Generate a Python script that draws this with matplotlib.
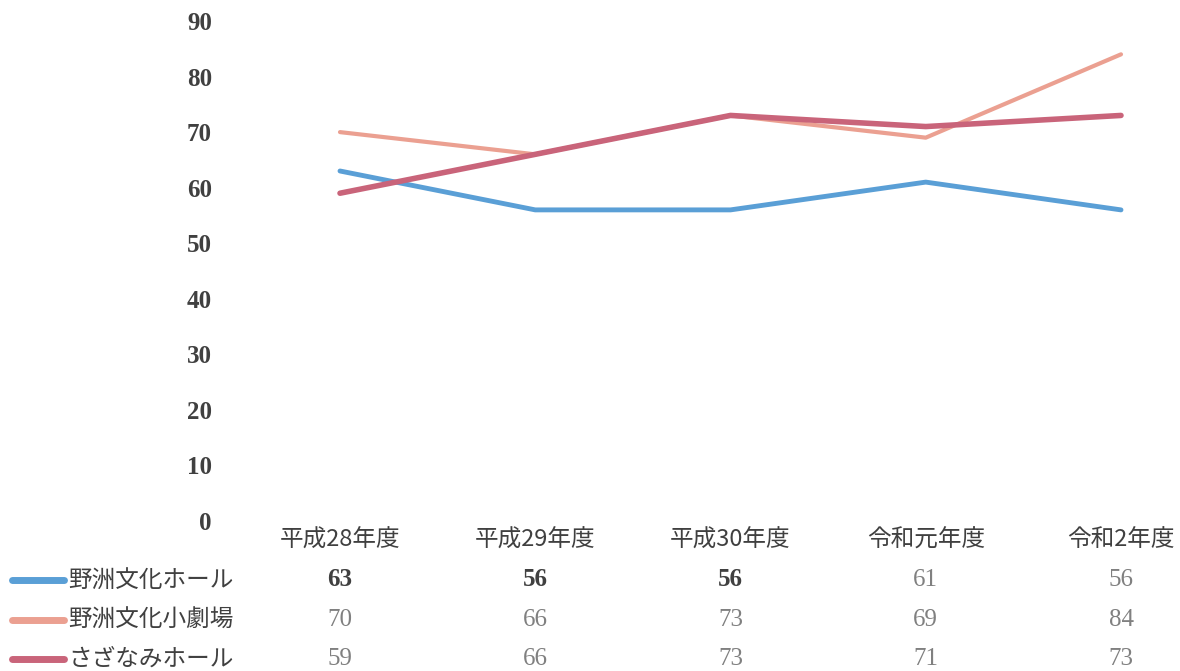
import matplotlib
matplotlib.use("Agg")
import matplotlib.pyplot as plt
import matplotlib.transforms as mtransforms
import numpy as np

plt.rcParams['font.family'] = ['Noto Sans CJK JP', 'DejaVu Sans']

years = ["平成28年度", "平成29年度", "平成30年度", "令和元年度", "令和2年度"]
series_names = ["野洲文化ホール", "野洲文化小劇場", "さざなみホール"]
bunka_hall = [63, 56, 56, 61, 56]
bunka_small = [70, 66, 73, 69, 84]
sazanami = [59, 66, 73, 71, 73]
yticks = [0, 10, 20, 30, 40, 50, 60, 70, 80, 90]

values = [bunka_hall, bunka_small, sazanami]
colors = ["#5a9fd6", "#eba091", "#c9647a"]
widths = [3.5, 3.0, 4.0]

W, H = 1180, 671
fig = plt.figure(figsize=(W / 100, H / 100), dpi=100)

x0, dx = 340, 195.25
left_px = x0 - dx / 2
ax = fig.add_axes([left_px / W, 1 - 521 / H, (W - left_px) / W, 500 / H])
x = np.arange(len(years))
ax.set_xlim(-0.5, (W - x0) / dx)
ax.set_ylim(0, 90)

for vals, c, lw in zip(values, colors, widths):
    ax.plot(x, vals, color=c, lw=lw, solid_capstyle='round', solid_joinstyle='round')

ax.set_xticks([])
ax.set_yticks(yticks)
ax.tick_params(axis='y', length=0, pad=22)
for lab in ax.get_yticklabels():
    lab.set_fontfamily('Liberation Serif')
    lab.set_fontweight('bold')
    lab.set_fontsize(18)
    lab.set_color('#404040')
for s in ax.spines.values():
    s.set_visible(False)

# data table under the chart
trans = mtransforms.blended_transform_factory(ax.transData, fig.transFigure)
for i, yr in enumerate(years):
    ax.text(i, 1 - 540 / H, yr, transform=trans, ha='center', va='center',
            fontsize=17, color='#404040', clip_on=False)

row_y = [580, 620, 659]
for r, (name, vals, c) in enumerate(zip(series_names, values, colors)):
    yf = 1 - row_y[r] / H
    fig.add_artist(plt.Line2D([12 / W, 64 / W], [yf, yf], color=c, lw=5,
                              solid_capstyle='round', transform=fig.transFigure))
    fig.text(68 / W, yf, name, ha='left', va='center', fontsize=17, color='#404040')
    for i, v in enumerate(vals):
        bold = (r == 0 and i < 3)
        ax.text(i, yf, str(v), transform=trans, ha='center', va='center',
                fontsize=18, fontfamily='Liberation Serif',
                fontweight='bold' if bold else 'normal',
                color='#404040' if bold else '#808080', clip_on=False)

fig.savefig("out.png", dpi=100)
